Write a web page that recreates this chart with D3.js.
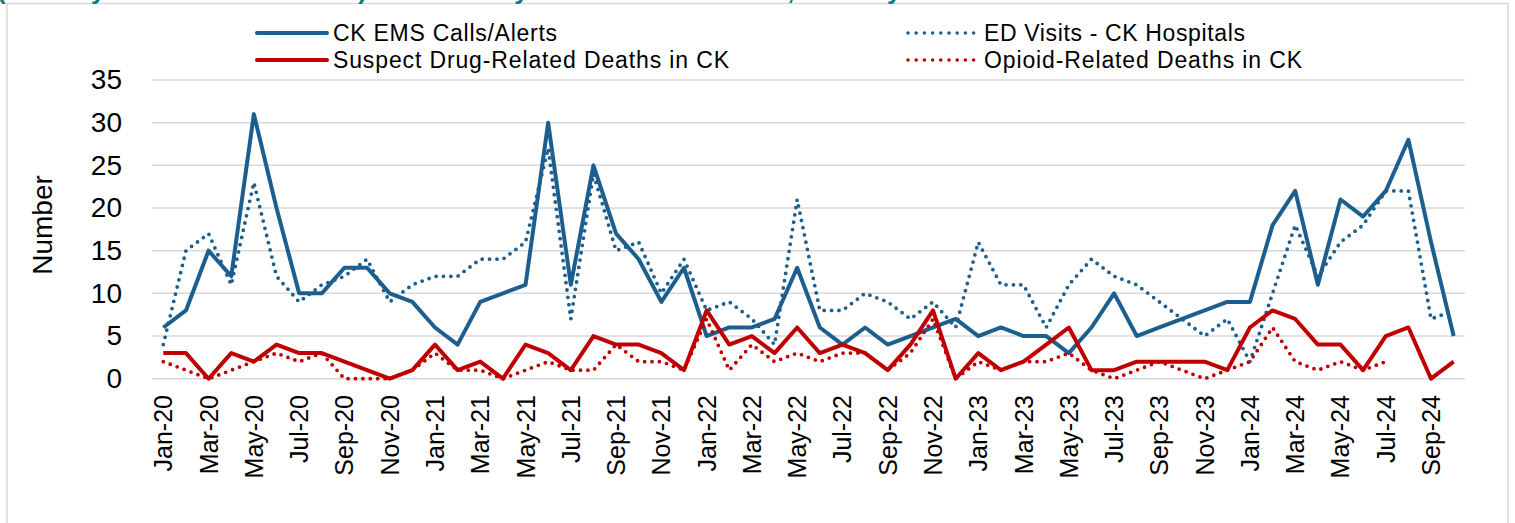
<!DOCTYPE html>
<html>
<head>
<meta charset="utf-8">
<script src="https://cdn.jsdelivr.net/npm/d3@7"></script>
<style>
  html, body { margin: 0; padding: 0; background: #fff; overflow: hidden; }
  svg { display: block; font-family: "Liberation Sans", Arial, sans-serif; }
</style>
</head>
<body>
<svg class="grafico" width="1515" height="523"></svg>
<script>
// meses (Jan-20 .. Oct-24)
const months = [
  'Jan-20','Feb-20','Mar-20','Apr-20','May-20','Jun-20','Jul-20','Aug-20','Sep-20','Oct-20','Nov-20','Dec-20',
  'Jan-21','Feb-21','Mar-21','Apr-21','May-21','Jun-21','Jul-21','Aug-21','Sep-21','Oct-21','Nov-21','Dec-21',
  'Jan-22','Feb-22','Mar-22','Apr-22','May-22','Jun-22','Jul-22','Aug-22','Sep-22','Oct-22','Nov-22','Dec-22',
  'Jan-23','Feb-23','Mar-23','Apr-23','May-23','Jun-23','Jul-23','Aug-23','Sep-23','Oct-23','Nov-23','Dec-23',
  'Jan-24','Feb-24','Mar-24','Apr-24','May-24','Jun-24','Jul-24','Aug-24','Sep-24','Oct-24'
]

// etiquetas del eje x (cada 2 meses)
const tickLabels = [
  'Jan-20','Mar-20','May-20','Jul-20','Sep-20','Nov-20','Jan-21','Mar-21','May-21','Jul-21','Sep-21','Nov-21',
  'Jan-22','Mar-22','May-22','Jul-22','Sep-22','Nov-22','Jan-23','Mar-23','May-23','Jul-23','Sep-23','Nov-23',
  'Jan-24','Mar-24','May-24','Jul-24','Sep-24'
]

const yTicks = [0, 5, 10, 15, 20, 25, 30, 35]

const emsCalls = [
  6, 8, 15, 12, 31, 20, 10, 10, 13, 13, 10, 9,
  6, 4, 9, 10, 11, 30, 11, 25, 17, 14, 9, 13,
  5, 6, 6, 7, 13, 6, 4, 6, 4, 5, 6, 7,
  5, 6, 5, 5, 3, 6, 10, 5, 6, 7, 8, 9,
  9, 18, 22, 11, 21, 19, 22, 28, 16, 5
]

const edVisits = [
  4, 15, 17, 11, 23, 12, 9, 11, 12, 14, 9, 11,
  12, 12, 14, 14, 16, 27, 7, 24, 15, 16, 10, 14,
  8, 9, 7, 4, 21, 8, 8, 10, 9, 7, 9, 6,
  16, 11, 11, 6, 11, 14, 12, 11, 9, 7, 5, 7,
  2, 10, 18, 12, 16, 18, 22, 22, 7, 8
]

const suspectDeaths = [
  3, 3, 0, 3, 2, 4, 3, 3, 2, 1, 0, 1,
  4, 1, 2, 0, 4, 3, 1, 5, 4, 4, 3, 1,
  8, 4, 5, 3, 6, 3, 4, 3, 1, 4, 8, 0,
  3, 1, 2, 4, 6, 1, 1, 2, 2, 2, 2, 1,
  6, 8, 7, 4, 4, 1, 5, 6, 0, 2
]

const opioidDeaths = [
  2, 1, 0, 1, 2, 3, 2, 3, 0, 0, 0, 1,
  3, 1, 1, 0, 1, 2, 1, 1, 4, 2, 2, 1,
  7, 1, 4, 2, 3, 2, 3, 3, 1, 3, 7, 0,
  2, 1, 2, 2, 3, 1, 0, 1, 2, 1, 0, 1,
  2, 6, 2, 1, 2, 1, 2, null, null, null
]

const azul = '#1c5f8e'
const rojo = '#c00000'

const series = [
  { name: 'CK EMS Calls/Alerts', values: emsCalls, color: azul, dotted: false },
  { name: 'ED Visits - CK Hospitals', values: edVisits, color: azul, dotted: true },
  { name: 'Suspect Drug-Related Deaths in CK', values: suspectDeaths, color: rojo, dotted: false },
  { name: 'Opioid-Related Deaths in CK', values: opioidDeaths, color: rojo, dotted: true }
]

const svg = d3.select('.grafico')

// marco exterior
svg.append('rect')
  .attr('x', 7).attr('y', 3.5)
  .attr('width', 1501).attr('height', 540)
  .attr('fill', 'none')
  .attr('stroke', '#d9d9d9')
  .attr('stroke-width', 1.5)

// titulo cortado arriba (como en la imagen original)
svg.append('text')
  .attr('x', -3).attr('y', -1)
  .attr('fill', '#137a7f')
  .attr('font-weight', 'bold')
  .attr('font-size', 26)
  .text('(January 2020 - October 2024) Kent County Overdose Indicators, Monthly')

const x = d3.scaleBand()
  .domain(months)
  .range([152, 1465])

const y = d3.scaleLinear()
  .domain([0, 35])
  .range([378.7, 80])

const cx = d => x(d) + x.bandwidth() / 2

// lineas de grilla
svg.append('g')
  .selectAll('line')
  .data(yTicks)
  .join('line')
  .attr('x1', 152).attr('x2', 1465)
  .attr('y1', d => y(d)).attr('y2', d => y(d))
  .attr('stroke', '#d9d9d9')
  .attr('stroke-width', 1.5)

// eje y
const ejeY = svg.append('g')
  .attr('transform', 'translate(122,0)')
  .call(d3.axisLeft(y).tickValues(yTicks).tickSize(0).tickPadding(0))
ejeY.select('.domain').remove()
ejeY.selectAll('text')
  .attr('font-size', 28)
  .attr('font-family', '"Liberation Sans", Arial, sans-serif')
  .attr('fill', '#000')

svg.append('text')
  .attr('transform', 'translate(52,225) rotate(-90)')
  .attr('text-anchor', 'middle')
  .attr('font-size', 28)
  .text('Number')

// eje x
svg.append('g')
  .selectAll('text')
  .data(tickLabels)
  .join('text')
  .attr('transform', d => `translate(${cx(d)},395) rotate(-90)`)
  .attr('text-anchor', 'end')
  .attr('dy', '0.36em')
  .attr('font-size', 25)
  .text(d => d)

// lineas
const line = d3.line()
  .defined(d => d.v !== null)
  .x(d => cx(d.m))
  .y(d => y(d.v))

svg.append('g')
  .selectAll('path')
  .data(series)
  .join('path')
  .attr('d', s => line(s.values.map((v, i) => ({ m: months[i], v }))))
  .attr('fill', 'none')
  .attr('stroke', s => s.color)
  .attr('stroke-width', s => s.dotted ? 3.8 : 4)
  .attr('stroke-dasharray', s => s.dotted ? '0 7.4' : null)
  .attr('stroke-linecap', s => s.dotted ? 'round' : 'butt')
  .attr('stroke-linejoin', 'round')

// leyenda
const legendPos = [
  { x: 256, y: 33, width: 224 },
  { x: 907, y: 33, width: 261 },
  { x: 256, y: 60, width: 396 },
  { x: 907, y: 60, width: 318 }
]

const leyenda = svg.append('g')
  .selectAll('g')
  .data(series)
  .join('g')
  .attr('transform', (s, i) => `translate(${legendPos[i].x},${legendPos[i].y})`)

leyenda.append('line')
  .attr('x1', 1).attr('x2', s => s.dotted ? 70 : 71)
  .attr('stroke', s => s.color)
  .attr('stroke-width', s => s.dotted ? 3.6 : 4)
  .attr('stroke-dasharray', s => s.dotted ? '0 8.2' : null)
  .attr('stroke-linecap', 'round')

leyenda.append('text')
  .attr('x', 77)
  .attr('dy', '0.36em')
  .attr('font-size', 23)
  .attr('textLength', (s, i) => legendPos[i].width)
  .attr('lengthAdjust', 'spacing')
  .text(s => s.name)
</script>
</body>
</html>
